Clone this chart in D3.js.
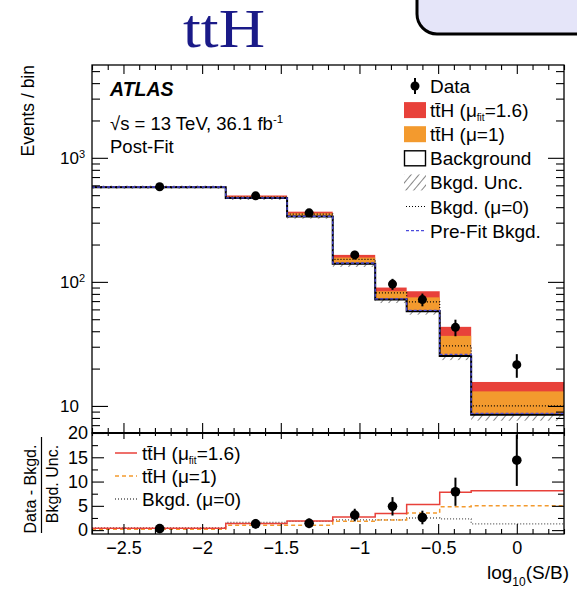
<!DOCTYPE html>
<html>
<head>
<meta charset="utf-8">
<script src="https://cdn.jsdelivr.net/npm/d3@7"></script>
<style>
  body { margin: 0; background: #fff; }
  svg { display: block; }
  text { font-family: "Liberation Sans", Arial, sans-serif; fill: #000; }
</style>
</head>
<body>
<svg id="chart" width="577" height="592"></svg>
<script>
// bins in log10(S/B)
const binEdges = [-2.7, -1.85, -1.46, -1.17, -0.9, -0.7, -0.49, -0.29, 0.3];
const dataX = [-2.27, -1.66, -1.32, -1.03, -0.79, -0.6, -0.39, 0.0];
const dataY = [585, 494, 360, 165, 96, 72, 43, 21.5];
const bkgY = [580, 474, 336, 140, 72, 58, 25.3, 8.5];
const bkgUnc = [17, 17, 13, 8, 4.5, 3.6, 1.9, 0.9];
const fitTop = [588, 497, 368, 165, 90, 84, 43.4, 15.6];   // bkg + ttH(mu_fit=1.6)
const mu1Top = [585, 486, 357, 157, 84, 75, 36.7, 13.1];   // bkg + ttH(mu=1)
const mu0Y = [584, 482, 352, 152, 81.5, 69, 30.5, 10];
const prefitY = [582, 476, 338, 142, 73, 59, 26, 8.7];

// lower pane: (data - bkg) / bkg unc.
const ratioData = [0.3, 1.3, 1.4, 3.1, 4.9, 2.6, 7.9, 14.4];
const ratioErr = [0.5, 1.0, 1.0, 1.3, 1.9, 1.4, 2.9, 5.3];
const ratioFit = [0.4, 1.35, 1.9, 2.7, 3.4, 5.3, 7.8, 8.1];
const ratioMu1 = [0.2, 1.0, 1.0, 1.85, 2.1, 3.5, 4.8, 5.0];
const ratioMu0 = [0.45, 1.6, 1.8, 2.1, 2.1, 2.5, 2.3, 1.3];

const xMajor = [-2.5, -2, -1.5, -1, -0.5, 0];
const yMajor = [10, 100, 1000];
const yMajorLabels = [["10", ""], ["10", "2"], ["10", "3"]];
const yMinor = [7, 8, 9, 20, 30, 40, 50, 60, 70, 80, 90, 200, 300, 400, 500, 600, 700, 800, 900, 2000, 3000, 4000, 5000];
const rMajor = [0, 5, 10, 15, 20];
const rMinor = [2.5, 7.5, 12.5, 17.5];

const legendMain = ["Data", "tt\u0304H (\u03bc", "tt\u0304H (\u03bc=1)", "Background", "Bkgd. Unc.", "Bkgd. (\u03bc=0)", "Pre-Fit Bkgd."];
const legendRatio = ["tt\u0304H (\u03bc", "tt\u0304H (\u03bc=1)", "Bkgd. (\u03bc=0)"];

const RED = "#e8413a", ORANGE = "#f39a2e", BLUE = "#4b4bdc";
const M = { left: 92, right: 564, top: 65, mid: 433, bottom: 534 };

const svg = d3.select("#chart");
const defs = svg.append("defs");
defs.append("pattern")
    .attr("id", "hatch")
    .attr("patternUnits", "userSpaceOnUse")
    .attr("width", 6).attr("height", 6)
    .attr("patternTransform", "rotate(40)")
  .append("line")
    .attr("x1", 0).attr("y1", 0).attr("x2", 0).attr("y2", 6)
    .attr("stroke", "#333").attr("stroke-width", 1.2);
defs.append("clipPath").attr("id", "clipMain").append("rect")
    .attr("x", M.left).attr("y", M.top).attr("width", M.right - M.left).attr("height", M.mid - M.top);
defs.append("clipPath").attr("id", "clipRatio").append("rect")
    .attr("x", M.left).attr("y", M.mid).attr("width", M.right - M.left).attr("height", M.bottom - M.mid);

// slide decoration
svg.append("rect")
    .attr("x", 417).attr("y", -30).attr("width", 200).attr("height", 64).attr("rx", 20)
    .attr("fill", "#e5e5f9").attr("stroke", "#000").attr("stroke-width", 3);
svg.append("text")
    .attr("x", 183).attr("y", 46.5)
    .attr("textLength", 82).attr("lengthAdjust", "spacingAndGlyphs")
    .style("font-family", "'Liberation Serif', 'DejaVu Serif', serif")
    .style("font-size", "54px").style("fill", "#1a1a88")
    .text("ttH");

const x = d3.scaleLinear().domain([-2.7, 0.3]).range([M.left, M.right]);
const y = d3.scaleLog().domain([6.05, 5600]).range([M.mid, M.top]);
const yr = d3.scaleLinear().domain([-0.8, 20]).range([M.bottom, M.mid]);
const xMinor = d3.range(-27, 4).map(d => d / 10).filter(d => !xMajor.includes(d));

const bins = bkgY.map((b, i) => ({ x0: binEdges[i], x1: binEdges[i + 1], i }));

function stepPoints(vals) {
  const pts = vals.map((v, i) => [binEdges[i], v]);
  pts.push([binEdges[vals.length], vals[vals.length - 1]]);
  return pts;
}

// ---- main pane ----
const main = svg.append("g").attr("clip-path", "url(#clipMain)");
const lineMain = d3.line().x(d => x(d[0])).y(d => y(d[1])).curve(d3.curveStepAfter);

main.selectAll(".unc").data(bins).enter().append("rect")
    .attr("x", d => x(d.x0)).attr("width", d => x(d.x1) - x(d.x0))
    .attr("y", d => y(bkgY[d.i] + bkgUnc[d.i]))
    .attr("height", d => y(bkgY[d.i] - bkgUnc[d.i]) - y(bkgY[d.i] + bkgUnc[d.i]))
    .attr("fill", "url(#hatch)");
main.selectAll(".fit").data(bins).enter().append("rect")
    .attr("x", d => x(d.x0)).attr("width", d => x(d.x1) - x(d.x0))
    .attr("y", d => y(fitTop[d.i])).attr("height", d => y(bkgY[d.i]) - y(fitTop[d.i]))
    .attr("fill", RED);
main.selectAll(".mu1").data(bins).enter().append("rect")
    .attr("x", d => x(d.x0)).attr("width", d => x(d.x1) - x(d.x0))
    .attr("y", d => y(mu1Top[d.i])).attr("height", d => y(bkgY[d.i]) - y(mu1Top[d.i]))
    .attr("fill", ORANGE);

main.append("path").attr("d", lineMain(stepPoints(mu0Y)))
    .attr("fill", "none").attr("stroke", "#000").attr("stroke-width", 1.2).attr("stroke-dasharray", "1,2");
main.append("path").attr("d", lineMain(stepPoints(bkgY)))
    .attr("fill", "none").attr("stroke", "#000").attr("stroke-width", 2);
main.append("path").attr("d", lineMain(stepPoints(prefitY)))
    .attr("fill", "none").attr("stroke", BLUE).attr("stroke-width", 1.3).attr("stroke-dasharray", "3,2");

const pts = main.selectAll(".pt").data(dataY).enter().append("g");
pts.append("line")
    .attr("x1", (d, i) => x(dataX[i])).attr("x2", (d, i) => x(dataX[i]))
    .attr("y1", d => y(d + Math.sqrt(d))).attr("y2", d => y(d - Math.sqrt(d)))
    .attr("stroke", "#000").attr("stroke-width", 2);
pts.append("circle")
    .attr("cx", (d, i) => x(dataX[i])).attr("cy", d => y(d)).attr("r", 4.5);

// ---- ratio pane ----
const ratio = svg.append("g").attr("clip-path", "url(#clipRatio)");
const lineRatio = d3.line().x(d => x(d[0])).y(d => yr(d[1])).curve(d3.curveStepAfter);
ratio.append("path").attr("d", lineRatio(stepPoints(ratioMu0)))
    .attr("fill", "none").attr("stroke", "#555").attr("stroke-width", 1.3).attr("stroke-dasharray", "1,2");
ratio.append("path").attr("d", lineRatio(stepPoints(ratioMu1)))
    .attr("fill", "none").attr("stroke", ORANGE).attr("stroke-width", 1.5).attr("stroke-dasharray", "4,3");
ratio.append("path").attr("d", lineRatio(stepPoints(ratioFit)))
    .attr("fill", "none").attr("stroke", RED).attr("stroke-width", 1.5);
const rpts = ratio.selectAll(".rpt").data(ratioData).enter().append("g");
rpts.append("line")
    .attr("x1", (d, i) => x(dataX[i])).attr("x2", (d, i) => x(dataX[i]))
    .attr("y1", (d, i) => yr(d + ratioErr[i])).attr("y2", (d, i) => yr(d - ratioErr[i]))
    .attr("stroke", "#000").attr("stroke-width", 2);
rpts.append("circle")
    .attr("cx", (d, i) => x(dataX[i])).attr("cy", d => yr(d)).attr("r", 4.8);

// ---- axes ----
function styleAxis(g) {
  g.select(".domain").remove();
  g.selectAll(".tick line").attr("stroke", "#000").attr("stroke-width", 1.1);
  g.selectAll("text").style("font-family", "'Liberation Sans', Arial, sans-serif").style("font-size", "17px");
  return g;
}
function addAxis(axis, tx, ty) {
  return svg.append("g").attr("transform", `translate(${tx},${ty})`).call(axis).call(styleAxis);
}

// main x ticks (top & bottom, no labels)
addAxis(d3.axisTop(x).tickValues(xMajor).tickSize(-9).tickFormat(""), 0, M.top);
addAxis(d3.axisTop(x).tickValues(xMinor).tickSize(-5).tickFormat(""), 0, M.top);
addAxis(d3.axisBottom(x).tickValues(xMajor).tickSize(-10).tickFormat(""), 0, M.mid);
addAxis(d3.axisBottom(x).tickValues(xMinor).tickSize(-5).tickFormat(""), 0, M.mid);
// ratio x ticks
addAxis(d3.axisTop(x).tickValues(xMajor).tickSize(-6).tickFormat(""), 0, M.mid);
addAxis(d3.axisTop(x).tickValues(xMinor).tickSize(-3).tickFormat(""), 0, M.mid);
const xAx = addAxis(d3.axisBottom(x).tickValues(xMajor).tickSize(-10).tickPadding(7).tickFormat(d3.format("")), 0, M.bottom);
xAx.selectAll("text").style("font-size", "18px").attr("dy", "0.71em");
addAxis(d3.axisBottom(x).tickValues(xMinor).tickSize(-5).tickFormat(""), 0, M.bottom);

// main y ticks
const yAx = addAxis(d3.axisLeft(y).tickValues(yMajor).tickSize(-16).tickPadding(32).tickFormat(""), M.left, 0);
yAx.selectAll(".tick text")
    .attr("text-anchor", "start").attr("dy", "0.35em")
    .each(function(d, i) {
      const t = d3.select(this);
      t.append("tspan").text(yMajorLabels[i][0]);
      if (yMajorLabels[i][1]) {
        t.append("tspan").attr("dy", "-0.55em").style("font-size", "11px").text(yMajorLabels[i][1]);
      }
    });
addAxis(d3.axisLeft(y).tickValues(yMinor).tickSize(-8).tickFormat(""), M.left, 0);
addAxis(d3.axisRight(y).tickValues(yMajor).tickSize(-16).tickFormat(""), M.right, 0);
addAxis(d3.axisRight(y).tickValues(yMinor).tickSize(-8).tickFormat(""), M.right, 0);

// ratio y ticks
addAxis(d3.axisLeft(yr).tickValues(rMajor).tickSize(-12).tickPadding(4).tickFormat(d3.format("d")), M.left, 0)
    .selectAll("text").style("font-size", "18px");
addAxis(d3.axisLeft(yr).tickValues(rMinor).tickSize(-6).tickFormat(""), M.left, 0);
addAxis(d3.axisRight(yr).tickValues(rMajor).tickSize(-12).tickFormat(""), M.right, 0);
addAxis(d3.axisRight(yr).tickValues(rMinor).tickSize(-6).tickFormat(""), M.right, 0);

// frames
svg.append("rect").attr("x", M.left).attr("y", M.top).attr("width", M.right - M.left).attr("height", M.mid - M.top)
    .attr("fill", "none").attr("stroke", "#000").attr("stroke-width", 1.3);
svg.append("rect").attr("x", M.left).attr("y", M.mid).attr("width", M.right - M.left).attr("height", M.bottom - M.mid)
    .attr("fill", "none").attr("stroke", "#000").attr("stroke-width", 1.3);
svg.append("line").attr("x1", M.left).attr("x2", M.right).attr("y1", M.mid).attr("y2", M.mid)
    .attr("stroke", "#000").attr("stroke-width", 2.2);

// ---- titles ----
svg.append("text").attr("transform", "translate(34,65) rotate(-90)")
    .attr("text-anchor", "end").style("font-size", "17.5px").text("Events / bin");
svg.append("text").attr("transform", "translate(36,489) rotate(-90)")
    .attr("text-anchor", "middle").style("font-size", "16px").text("Data - Bkgd.");
svg.append("line").attr("x1", 41.5).attr("x2", 41.5).attr("y1", 437).attr("y2", 533)
    .attr("stroke", "#000").attr("stroke-width", 1.2);
svg.append("text").attr("transform", "translate(57.5,484) rotate(-90)")
    .attr("text-anchor", "middle").style("font-size", "16px").text("Bkgd. Unc.");

const xt = svg.append("text").attr("x", 569).attr("y", 579).attr("text-anchor", "end").style("font-size", "19px");
xt.append("tspan").text("log");
xt.append("tspan").attr("dy", 7).style("font-size", "12px").text("10");
xt.append("tspan").attr("dy", -7).text("(S/B)");

svg.append("text").attr("x", 110).attr("y", 96)
    .style("font-size", "19.5px").style("font-weight", "bold").style("font-style", "italic").text("ATLAS");
const lum = svg.append("text").attr("x", 110).attr("y", 130).style("font-size", "18.5px");
lum.append("tspan").text("\u221as = 13 TeV, 36.1 fb");
lum.append("tspan").attr("dy", -7).style("font-size", "11.5px").text("-1");
svg.append("text").attr("x", 110).attr("y", 153).style("font-size", "18.5px").text("Post-Fit");

// ---- legend (main) ----
const lgX = 404, lgY0 = 86, lgDy = 24.1;
const lg = svg.append("g").selectAll("g").data(legendMain).enter().append("g")
    .attr("transform", (d, i) => `translate(${lgX},${lgY0 + i * lgDy})`);
lg.append("text").attr("x", 26).attr("y", 7).style("font-size", "19px")
    .each(function(d, i) {
      const t = d3.select(this);
      t.append("tspan").text(d);
      if (i === 1) {
        t.append("tspan").attr("dy", 4).style("font-size", "10px").text("fit");
        t.append("tspan").attr("dy", -4).text("=1.6)");
      }
    });
lg.each(function(d, i) {
  const g = d3.select(this);
  if (i === 0) {
    g.append("line").attr("x1", 11).attr("x2", 11).attr("y1", -8).attr("y2", 8).attr("stroke", "#000").attr("stroke-width", 2);
    g.append("circle").attr("cx", 11).attr("cy", 0).attr("r", 4.5);
  } else if (i === 1 || i === 2) {
    g.append("rect").attr("x", 0).attr("y", -8).attr("width", 22).attr("height", 16).attr("fill", i === 1 ? RED : ORANGE);
  } else if (i === 3) {
    g.append("rect").attr("x", 0.5).attr("y", -7.5).attr("width", 21).attr("height", 15)
        .attr("fill", "#fff").attr("stroke", "#000").attr("stroke-width", 1.4);
  } else if (i === 4) {
    g.append("rect").attr("x", 0).attr("y", -8).attr("width", 22).attr("height", 16).attr("fill", "url(#hatch)");
  } else if (i === 5) {
    g.append("line").attr("x1", 2).attr("x2", 22).attr("y1", 0).attr("y2", 0)
        .attr("stroke", "#000").attr("stroke-width", 1.2).attr("stroke-dasharray", "1,2");
  } else {
    g.append("line").attr("x1", 2).attr("x2", 22).attr("y1", 0).attr("y2", 0)
        .attr("stroke", BLUE).attr("stroke-width", 1.4).attr("stroke-dasharray", "3,2");
  }
});

// ---- legend (ratio) ----
const rlStyles = [
  { stroke: RED, dash: null },
  { stroke: ORANGE, dash: "4,3" },
  { stroke: "#555", dash: "1,2" }
];
const rl = svg.append("g").selectAll("g").data(legendRatio).enter().append("g")
    .attr("transform", (d, i) => `translate(115,${453 + i * 23})`);
rl.append("line").attr("x1", 0).attr("x2", 22).attr("y1", 0).attr("y2", 0)
    .attr("stroke", (d, i) => rlStyles[i].stroke).attr("stroke-width", 1.5)
    .attr("stroke-dasharray", (d, i) => rlStyles[i].dash);
rl.append("text").attr("x", 27).attr("y", 7).style("font-size", "19px")
    .each(function(d, i) {
      const t = d3.select(this);
      t.append("tspan").text(d);
      if (i === 0) {
        t.append("tspan").attr("dy", 4).style("font-size", "10px").text("fit");
        t.append("tspan").attr("dy", -4).text("=1.6)");
      }
    });
</script>
</body>
</html>
